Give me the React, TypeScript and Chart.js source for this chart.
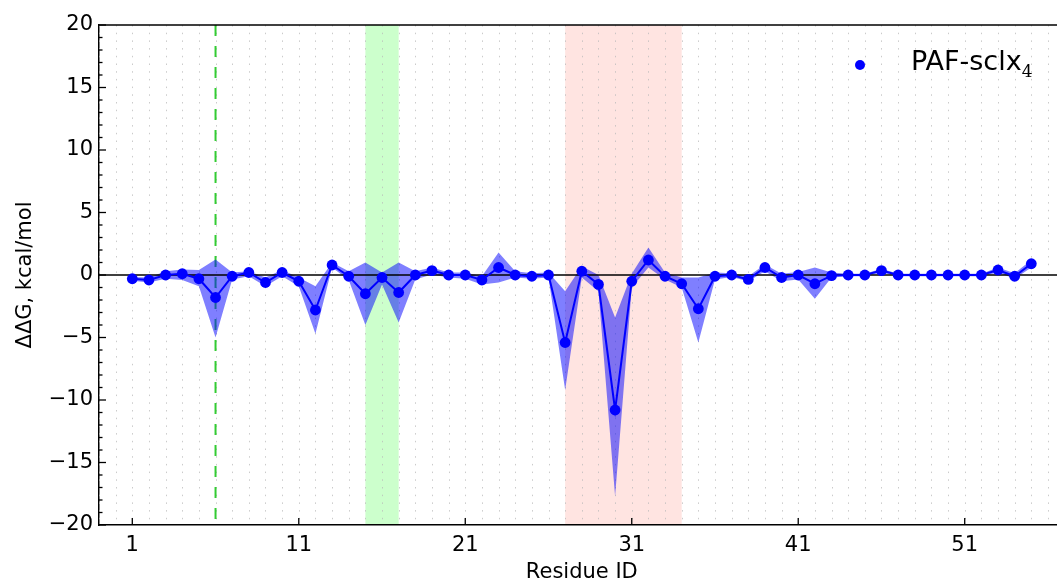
import React, { useEffect, useRef } from "react";
import { Chart, registerables } from "chart.js";

Chart.register(...registerables);

const residues = [
  1, 2, 3, 4, 5, 6, 7, 8, 9, 10, 11, 12, 13, 14, 15, 16, 17, 18, 19, 20,
  21, 22, 23, 24, 25, 26, 27, 28, 29, 30, 31, 32, 33, 34, 35, 36, 37, 38, 39, 40,
  41, 42, 43, 44, 45, 46, 47, 48, 49, 50, 51, 52, 53, 54, 55,
];
const ddg = [
  -0.3, -0.4, 0.0, 0.1, -0.3, -1.8, -0.1, 0.2, -0.6, 0.2,
  -0.5, -2.8, 0.8, -0.1, -1.5, -0.2, -1.4, 0.0, 0.35, 0.0,
  0.0, -0.4, 0.6, 0.0, -0.1, 0.0, -5.4, 0.3, -0.75, -10.8,
  -0.5, 1.2, -0.1, -0.7, -2.7, -0.1, 0.0, -0.35, 0.6, -0.2,
  0.0, -0.7, -0.05, 0.0, 0.0, 0.35, 0.0, 0.0, 0.0, 0.0,
  0.0, 0.0, 0.4, -0.1, 0.9,
];
const ddgUpper = [
  -0.15, -0.2, 0.3, 0.45, 0.4, 1.25, 0.2, 0.3, -0.2, 0.4,
  -0.2, -0.9, 1.0, 0.3, 1.0, 0.2, 1.0, 0.3, 0.6, 0.2,
  0.2, -0.1, 1.8, 0.3, 0.15, 0.2, -1.3, 0.7, 0.0, -3.4,
  0.1, 2.2, 0.2, -0.2, -0.2, 0.2, 0.15, -0.1, 0.85, 0.1,
  0.25, 0.6, 0.2, 0.1, 0.1, 0.5, 0.1, 0.1, 0.1, 0.1,
  0.1, 0.1, 0.6, 0.15, 1.2,
];
const ddgLower = [
  -0.45, -0.6, -0.3, -0.4, -0.9, -5.0, -0.35, -0.1, -0.9, -0.1,
  -0.9, -4.7, 0.6, -0.4, -4.0, -0.75, -3.8, -0.35, 0.05, -0.2,
  -0.3, -0.75, -0.6, -0.2, -0.3, -0.2, -9.2, -0.2, -1.3, -17.7,
  -1.0, 0.6, -0.35, -1.0, -5.4, -0.35, -0.15, -0.5, 0.3, -0.5,
  -0.35, -1.9, -0.2, -0.1, -0.1, 0.2, -0.1, -0.1, -0.1, -0.1,
  -0.1, -0.1, 0.2, -0.3, 0.6,
];
const xTickLabels = [1, 11, 21, 31, 41, 51];
const greenSpan = [15, 17];
const pinkSpan = [27, 34];
const markerResidue = 6;

const X_MIN = -1;
const X_MAX = 57;
const Y_MIN = -20;
const Y_MAX = 20;

const FONT = "'DejaVu Sans', sans-serif";

const decorPlugin = {
  id: "decor",
  beforeDraw(chart: any) {
    const { ctx, chartArea, scales } = chart;
    const xs = scales.x;
    ctx.save();
    ctx.fillStyle = "#ccffcc";
    ctx.fillRect(
      xs.getPixelForValue(greenSpan[0]),
      chartArea.top,
      xs.getPixelForValue(greenSpan[1]) - xs.getPixelForValue(greenSpan[0]),
      chartArea.bottom - chartArea.top
    );
    ctx.fillStyle = "#ffe4e1";
    ctx.fillRect(
      xs.getPixelForValue(pinkSpan[0]),
      chartArea.top,
      xs.getPixelForValue(pinkSpan[1]) - xs.getPixelForValue(pinkSpan[0]),
      chartArea.bottom - chartArea.top
    );
    ctx.restore();
  },
  beforeDatasetsDraw(chart: any) {
    const { ctx, chartArea, scales } = chart;
    const xs = scales.x;
    const ys = scales.y;
    ctx.save();
    // dotted vertical grid at each residue
    ctx.strokeStyle = "rgba(185,185,185,0.75)";
    ctx.lineWidth = 1;
    ctx.setLineDash([1.5, 6.2]);
    for (let v = Math.ceil(X_MIN); v <= X_MAX; v++) {
      const px = Math.round(xs.getPixelForValue(v)) + 0.5;
      ctx.beginPath();
      ctx.moveTo(px, chartArea.top);
      ctx.lineTo(px, chartArea.bottom);
      ctx.stroke();
    }
    // green dashed marker line
    ctx.strokeStyle = "#33cc33";
    ctx.lineWidth = 2;
    ctx.setLineDash([11, 10]);
    const mx = xs.getPixelForValue(markerResidue);
    ctx.beginPath();
    ctx.moveTo(mx, chartArea.top);
    ctx.lineTo(mx, chartArea.bottom);
    ctx.stroke();
    ctx.setLineDash([]);

    // inward ticks
    ctx.strokeStyle = "#000";
    ctx.lineWidth = 1.3;
    for (let v = Y_MIN; v <= Y_MAX; v++) {
      const py = ys.getPixelForValue(v);
      const len = v % 5 === 0 ? 7 : 3.5;
      ctx.beginPath();
      ctx.moveTo(chartArea.left, py);
      ctx.lineTo(chartArea.left + len, py);
      ctx.stroke();
    }
    for (const v of xTickLabels) {
      const px = xs.getPixelForValue(v);
      ctx.beginPath();
      ctx.moveTo(px, chartArea.bottom);
      ctx.lineTo(px, chartArea.bottom - 7);
      ctx.stroke();
    }
    // top spine
    ctx.lineWidth = 1.5;
    ctx.beginPath();
    ctx.moveTo(chartArea.left, chartArea.top);
    ctx.lineTo(chartArea.right, chartArea.top);
    ctx.stroke();
    ctx.restore();
  },
};

export default function App() {
  const ref = useRef<HTMLCanvasElement>(null);

  useEffect(() => {
    if (!ref.current) return;
    const pts = (arr: number[]) => residues.map((r, i) => ({ x: r, y: arr[i] }));
    const chart = new Chart(ref.current, {
      type: "line",
      data: {
        datasets: [
          {
            label: "upper",
            data: pts(ddgUpper),
            borderWidth: 0,
            borderColor: "rgba(0,0,0,0)",
            pointRadius: 0,
            fill: false,
            order: 3,
          },
          {
            label: "lower",
            data: pts(ddgLower),
            borderWidth: 0,
            borderColor: "rgba(0,0,0,0)",
            backgroundColor: "rgba(0,0,255,0.5)",
            pointRadius: 0,
            fill: "-1",
            order: 2,
          },
          {
            label: "zero",
            data: [
              { x: X_MIN, y: 0 },
              { x: X_MAX, y: 0 },
            ],
            borderColor: "#000",
            borderWidth: 1.5,
            pointRadius: 0,
            fill: false,
            order: 1,
          },
          {
            label: "PAF-sclx₄",
            data: pts(ddg),
            borderColor: "#0000ff",
            backgroundColor: "#0000ff",
            borderWidth: 2,
            pointRadius: 5.4,
            pointBorderWidth: 0,
            pointBackgroundColor: "#0000ff",
            fill: false,
            tension: 0,
            order: 0,
          },
        ],
      },
      options: {
        animation: false,
        responsive: false,
        maintainAspectRatio: false,
        events: [],
        layout: { padding: { top: 25, right: 3.6, left: 0, bottom: 0 } },
        plugins: {
          legend: { display: false },
          tooltip: { enabled: false },
        },
        scales: {
          x: {
            type: "linear",
            min: X_MIN,
            max: X_MAX,
            afterBuildTicks: (scale: any) => {
              scale.ticks = xTickLabels.map((v) => ({ value: v }));
            },
            afterFit: (scale: any) => {
              scale.height = 60;
            },
            grid: { display: false, drawTicks: false },
            border: { display: true, color: "#000", width: 1.5 },
            ticks: {
              color: "#000",
              font: { family: FONT, size: 21 },
              padding: 8,
              maxRotation: 0,
              autoSkip: false,
              callback: (v: any) => String(v),
            },
            title: {
              display: true,
              text: "Residue ID",
              color: "#000",
              font: { family: FONT, size: 21 },
              padding: { top: 0, bottom: 0 },
            },
          },
          y: {
            min: Y_MIN,
            max: Y_MAX,
            afterFit: (scale: any) => {
              scale.width = 99;
            },
            grid: { display: false, drawTicks: false },
            border: { display: true, color: "#000", width: 1.5 },
            ticks: {
              stepSize: 5,
              color: "#000",
              font: { family: FONT, size: 21 },
              padding: 6,
              callback: (v: any) => (v < 0 ? "\u2212" + Math.abs(v) : String(v)),
            },
            title: {
              display: true,
              text: "ΔΔG, kcal/mol",
              color: "#000",
              font: { family: FONT, size: 21 },
              padding: { top: 13, bottom: 0 },
            },
          },
        },
      },
      plugins: [decorPlugin],
    });
    return () => chart.destroy();
  }, []);

  return (
    <div
      style={{
        position: "absolute",
        left: 0,
        top: 0,
        width: 1057,
        height: 585,
        overflow: "hidden",
        background: "#fff",
      }}
    >
      <canvas ref={ref} width={1070} height={585} style={{ display: "block", width: 1070, height: 585 }} />
      <div
        style={{
          position: "absolute",
          left: 854.6,
          top: 59.5,
          width: 10.8,
          height: 10.8,
          borderRadius: "50%",
          background: "#0000ff",
        }}
      />
      <div
        style={{
          position: "absolute",
          left: 911,
          top: 45,
          fontFamily: FONT,
          fontSize: 27,
          lineHeight: "32px",
          color: "#000",
          whiteSpace: "nowrap",
        }}
      >
        PAF-sclx
        <span style={{ fontFamily: "'DejaVu Serif', serif", fontSize: 17, position: "relative", top: 7 }}>4</span>
      </div>
    </div>
  );
}
